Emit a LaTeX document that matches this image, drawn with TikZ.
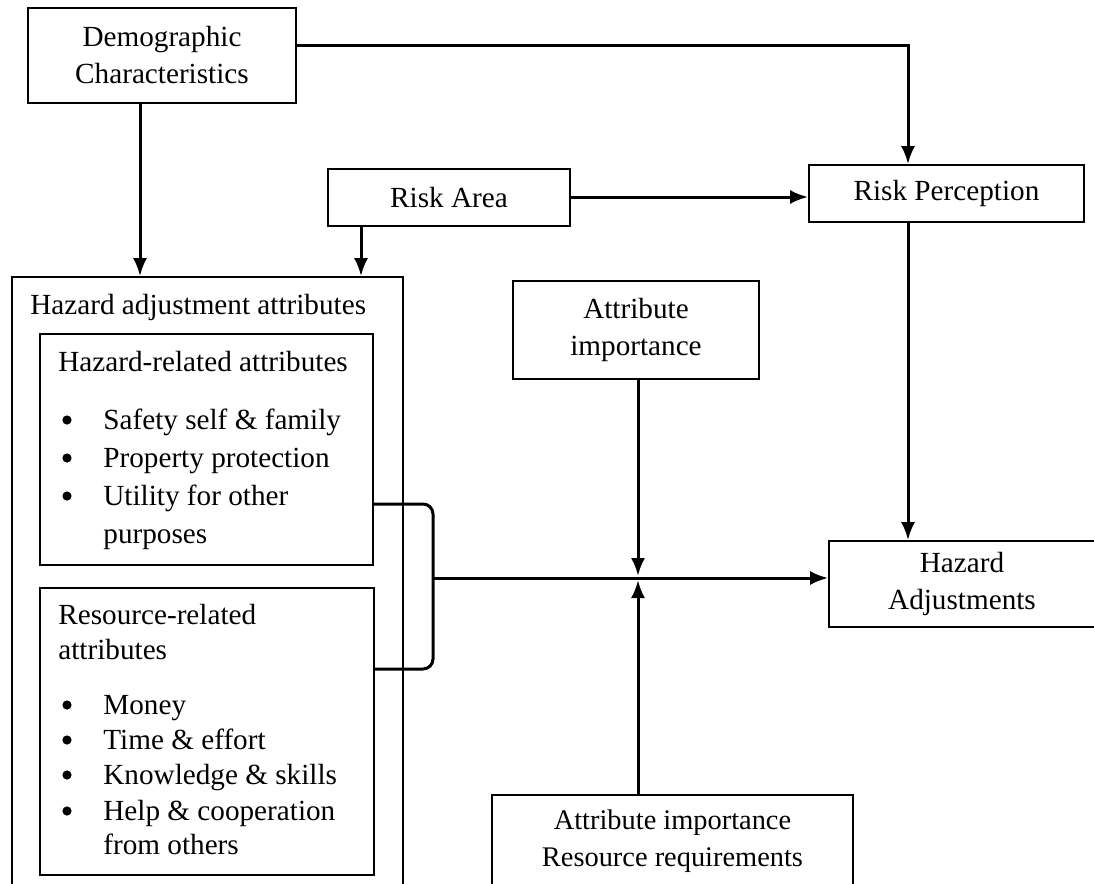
\documentclass[tikz,border=0pt]{standalone}
\usepackage{fontspec}
\setmainfont{Liberation Serif}
\usetikzlibrary{arrows.meta,calc}
\tikzset{
  box/.style={draw, line width=0.8pt, inner sep=0pt, align=center, font=\fontsize{14.6}{18.5}\selectfont},
  arr/.style={line width=1.5pt, -{Latex[length=9pt,width=7pt]}},
  lbl/.style={anchor=base west, inner sep=0pt, font=\fontsize{14.6}{18}\selectfont},
  bul/.style={circle, fill, inner sep=0pt, minimum size=4.6pt},
}

\begin{document}
\begin{tikzpicture}[x=0.5pt,y=-0.5pt]
		%%%%% CANVAS %%%%%
		\clip (0,0) rectangle (1094,884);
		
		%%%%% BOXES %%%%%
		\node[box, minimum width=134pt, minimum height=47.5pt] (demo) at (162,55.5) {Demographic\\Characteristics};
		\node[box, minimum width=121pt, minimum height=28.5pt] (riskarea) at (449,197.5) {Risk Area};
		\node[box, minimum width=137.5pt, minimum height=28.5pt] (riskperc) at (946.5,193.5) {Risk Perception};
		\node[box, minimum width=123pt, minimum height=49pt] (attimp) at (636,330) {Attribute\\importance};
		\node[box, minimum width=133pt, minimum height=43pt] (hazadj) at (962,584) {Hazard\\Adjustments};
		\node[box, minimum width=180.5pt, minimum height=46.5pt, font=\fontsize{14.2}{18.5}\selectfont] (attres) at (672.5,841.5) {Attribute importance\\Resource requirements};
		
		\node[box, minimum width=195.5pt, minimum height=309pt] (hazattr) at (207.5,586) {};
		\node[lbl] (hazattrtxt) at (30,314) {Hazard adjustment attributes};
		
		\node[box, minimum width=166.5pt, minimum height=115.5pt] (hazrel) at (206.5,449.5) {};
		\node[lbl] (hazreltxt) at (58,371) {Hazard-related attributes};
		\foreach \y/\txt [count=\i] in {420/{Safety self \& family}, 458/{Property protection}, 496/{Utility for other}} {
			\node[bul] (hb\i) at (67,\y) {};
			\node[lbl] (ht\i) at (103,\y+9) {\txt};
		}
		\node[lbl] (ht4) at (103,543) {purposes};
		
		\node[box, minimum width=167pt, minimum height=143.5pt] (resrel) at (207,731.5) {};
		\node[lbl] (resreltxt1) at (58,624) {Resource-related};
		\node[lbl] (resreltxt2) at (58,659) {attributes};
		\foreach \y/\txt [count=\i] in {705/{Money}, 740/{Time \& effort}, 775/{Knowledge \& skills}, 811/{Help \& cooperation}} {
			\node[bul] (rb\i) at (67,\y) {};
			\node[lbl] (rt\i) at (103,\y+9) {\txt};
		}
		\node[lbl] (rt5) at (103,854) {from others};
		
		%%%%% CONNECTORS %%%%%
		\coordinate (dx) at (140,0);
		\coordinate (rx) at (361,0);
		\coordinate (tp) at (908,45);
		\coordinate (ry) at (575,197);
		\coordinate (b1) at (433,504);
		\coordinate (b2) at (433,669);
		\coordinate (mid) at (433,578);
		\coordinate (cross) at (638,578);
		
		\draw[arr] (demo.south -| dx) -- (hazattr.north -| dx);
		\draw[arr] (riskarea.south -| rx) -- (hazattr.north -| rx);
		\draw[arr] (demo.east |- tp) -- (tp) -- (riskperc.north -| tp);
		\draw[arr] (riskarea.east |- ry) -- (riskperc.west |- ry);
		\draw[arr] (riskperc.south -| tp) -- (hazadj.north -| tp);
		
		\draw[line width=1.5pt, rounded corners=5pt] (hazrel.east |- b1) -- (b1) -- (b2) -- (resrel.east |- b2);
		\draw[arr] (mid) -- (mid -| hazadj.west);
		\draw[arr, shorten >=1pt] (attimp.south -| cross) -- (cross);
		\draw[arr, shorten >=1pt] (attres.north -| cross) -- (cross);
		
		%%%%% END %%%%%
	\end{tikzpicture}
\end{document}
